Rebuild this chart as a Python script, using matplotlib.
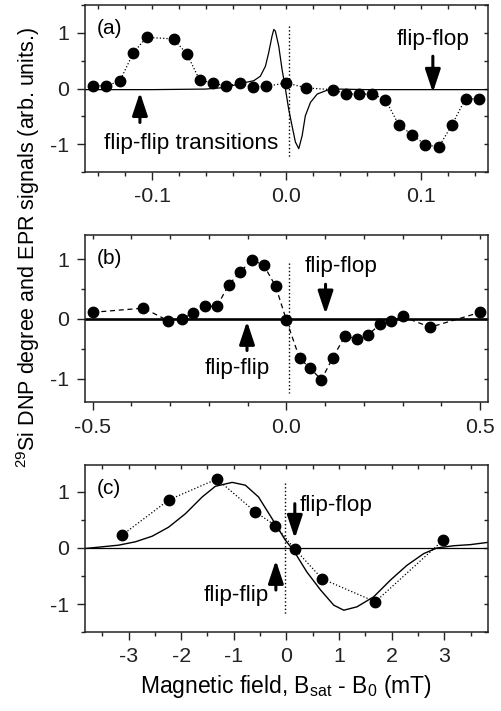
import matplotlib
matplotlib.use('Agg')
import matplotlib.pyplot as plt
import matplotlib.lines as mlines
from matplotlib.ticker import MultipleLocator

plt.rcParams['font.family'] = ['Liberation Sans', 'DejaVu Sans']
plt.rcParams['font.size'] = 15.4

# (a) DNP points and EPR line
a_x = [-0.144, -0.134, -0.124, -0.114, -0.104, -0.084, -0.074, -0.0645, -0.0546,
       -0.0447, -0.0347, -0.0248, -0.0149, 0.0, 0.0149, 0.0347, 0.0447, 0.054,
       0.064, 0.0737, 0.0836, 0.0935, 0.1035, 0.1134, 0.1233, 0.1333, 0.143]
a_y = [0.05, 0.05, 0.13, 0.64, 0.92, 0.89, 0.62, 0.15, 0.10, 0.04, 0.10, 0.02,
       0.04, 0.10, 0.01, -0.02, -0.10, -0.10, -0.10, -0.20, -0.65, -0.83, -1.01,
       -1.05, -0.65, -0.18, -0.19]
epr_a_x = [-0.15, -0.1, -0.06, -0.045, -0.0343, -0.0243, -0.0194, -0.0156, -0.0132,
           -0.0107, -0.0094, -0.0082, -0.0057, -0.0032, -0.0007, 0.0017, 0.0042,
           0.0067, 0.0092, 0.0117, 0.0141, 0.0179, 0.0229, 0.0303, 0.0378, 0.06,
           0.1, 0.15]
epr_a_y = [-0.02, -0.02, -0.01, 0.02, 0.09, 0.14, 0.22, 0.40, 0.64, 0.94, 1.06,
           1.03, 0.76, 0.34, -0.01, -0.37, -0.67, -0.96, -1.08, -0.85, -0.49, -0.25,
           -0.10, -0.03, -0.01, -0.02, -0.02, -0.02]

# (b) DNP points
b_x = [-0.5, -0.369, -0.305, -0.270, -0.242, -0.210, -0.179, -0.149, -0.120,
       -0.089, -0.0585, -0.028, 0.0, 0.034, 0.062, 0.090, 0.120, 0.151, 0.181,
       0.211, 0.241, 0.270, 0.300, 0.371, 0.5]
b_y = [0.11, 0.18, -0.03, -0.01, 0.10, 0.21, 0.21, 0.57, 0.78, 0.99, 0.90, 0.55,
       -0.02, -0.66, -0.83, -1.02, -0.65, -0.29, -0.33, -0.27, -0.09, -0.03, 0.04,
       -0.14, 0.11]

# (c) DNP points and EPR line
c_x = [-3.12, -2.23, -1.32, -0.60, -0.21, 0.16, 0.68, 1.69, 2.98]
c_y = [0.23, 0.86, 1.23, 0.65, 0.40, -0.02, -0.55, -0.96, 0.14]
epr_c_x = [-3.83, -3.19, -2.87, -2.55, -2.24, -1.92, -1.60, -1.35, -1.03, -0.78,
           -0.53, -0.27, -0.02, 0.14, 0.39, 0.65, 0.90, 1.09, 1.34, 1.66, 1.98,
           2.29, 2.61, 2.86, 3.18, 3.50, 3.83]
epr_c_y = [-0.01, 0.05, 0.11, 0.21, 0.37, 0.61, 0.91, 1.10, 1.17, 1.12, 0.91,
           0.52, 0.14, -0.05, -0.43, -0.75, -1.02, -1.11, -1.05, -0.87, -0.57,
           -0.31, -0.10, 0.0, 0.04, 0.06, 0.10]

a_xticks = [-0.1, 0.0, 0.1]
a_xlabels = ['-0.1', '0.0', '0.1']
b_xticks = [-0.5, 0.0, 0.5]
b_xlabels = ['-0.5', '0.0', '0.5']
c_xticks = [-3, -2, -1, 0, 1, 2, 3]
c_xlabels = ['-3', '-2', '-1', '0', '1', '2', '3']
yticks = [-1, 0, 1]
ylabels = ['-1', '0', '1']

ANN = 16.2

fig = plt.figure(figsize=(5.02, 7.11), dpi=100)
ax_a = fig.add_axes([0.169, 0.758, 0.803, 0.235])
ax_b = fig.add_axes([0.169, 0.434, 0.803, 0.235])
ax_c = fig.add_axes([0.169, 0.111, 0.803, 0.235])


def style(ax, xmin, label, xt, xl):
    ax.set_xticks(xt)
    ax.set_xticklabels(xl)
    ax.xaxis.set_minor_locator(MultipleLocator(xmin))
    ax.set_yticks(yticks)
    ax.set_yticklabels(ylabels)
    ax.yaxis.set_minor_locator(MultipleLocator(0.5))
    ax.tick_params(which='both', direction='out', width=1.0, colors='#222222')
    ax.tick_params(which='major', length=6, pad=5)
    ax.tick_params(which='minor', length=3)
    # short inward ticks along top and right edges
    ax.tick_params(which='both', top=True, right=True)
    for t in ax.xaxis.get_major_ticks() + ax.xaxis.get_minor_ticks():
        t.tick2line.set_marker(mlines.TICKDOWN)
        t.tick2line.set_markersize(3)
    for t in ax.yaxis.get_major_ticks() + ax.yaxis.get_minor_ticks():
        t.tick2line.set_marker(mlines.TICKLEFT)
        t.tick2line.set_markersize(3)
    for s in ax.spines.values():
        s.set_linewidth(1.1)
        s.set_color('#222222')
    ax.text(0.03, 0.86, label, transform=ax.transAxes, va='center', ha='left',
            fontsize=15)


def arrow(ax, x, y0, y1):
    ax.annotate('', xy=(x, y1), xytext=(x, y0),
                arrowprops=dict(arrowstyle='-|>,head_length=0.9,head_width=0.3',
                                lw=2.2, color='k', shrinkA=0, shrinkB=0))


# panel (a)
ax_a.plot(epr_a_x, epr_a_y, '-', color='k', lw=0.9)
ax_a.plot(a_x, a_y, ':', color='k', lw=0.9, marker='o', ms=7.5)
ax_a.plot([0.002, 0.002], [1.12, -1.23], ':', color='k', lw=1.0)
arrow(ax_a, -0.109, -0.61, -0.07)
arrow(ax_a, 0.109, 0.58, -0.07)
ax_a.text(-0.136, -0.98, 'flip-flip transitions', ha='left', va='center',
          fontsize=ANN)
ax_a.text(0.1095, 0.88, 'flip-flop', ha='center', va='center', fontsize=ANN)
ax_a.set_xlim(-0.15, 0.15)
ax_a.set_ylim(-1.5, 1.5)
style(ax_a, 0.02, '(a)', a_xticks, a_xlabels)

# panel (b)
ax_b.axhline(0, color='k', lw=1.9)
ax_b.plot(b_x, b_y, '--', color='k', lw=0.9, marker='o', ms=7.5, dashes=(4, 3))
ax_b.plot([0.008, 0.008], [0.94, -1.24], ':', color='k', lw=1.0)
arrow(ax_b, 0.101, 0.58, 0.08)
arrow(ax_b, -0.1016, -0.53, -0.04)
ax_b.text(0.142, 0.87, 'flip-flop', ha='center', va='center', fontsize=ANN)
ax_b.text(-0.127, -0.83, 'flip-flip', ha='center', va='center', fontsize=ANN)
ax_b.set_xlim(-0.52, 0.52)
ax_b.set_ylim(-1.4, 1.4)
style(ax_b, 0.1, '(b)', b_xticks, b_xlabels)

# panel (c)
ax_c.axhline(0, color='k', lw=0.9)
ax_c.plot(epr_c_x, epr_c_y, '-', color='k', lw=1.0)
ax_c.plot(c_x, c_y, ':', color='k', lw=0.9, marker='o', ms=7.5)
ax_c.plot([-0.02, -0.02], [1.15, -1.2], ':', color='k', lw=1.0)
arrow(ax_c, 0.16, 0.79, 0.17)
arrow(ax_c, -0.20, -0.75, -0.22)
ax_c.text(0.95, 0.76, 'flip-flop', ha='center', va='center', fontsize=ANN)
ax_c.text(-0.96, -0.85, 'flip-flip', ha='center', va='center', fontsize=ANN)
ax_c.set_xlim(-3.83, 3.83)
ax_c.set_ylim(-1.5, 1.48)
style(ax_c, 0.5, '(c)', c_xticks, c_xlabels)
ax_c.set_xlabel('Magnetic field, B$_{\\mathregular{sat}}$ - B$_{\\mathregular{0}}$ (mT)',
                labelpad=5, fontsize=16.5)

fig.text(0.055, 1 - 247 / 711,
         '$^{\\mathregular{29}}$Si DNP degree and EPR signals (arb. units.)',
         rotation=90, ha='center', va='center', fontsize=15.5)

fig.savefig('out.png', dpi=100)
